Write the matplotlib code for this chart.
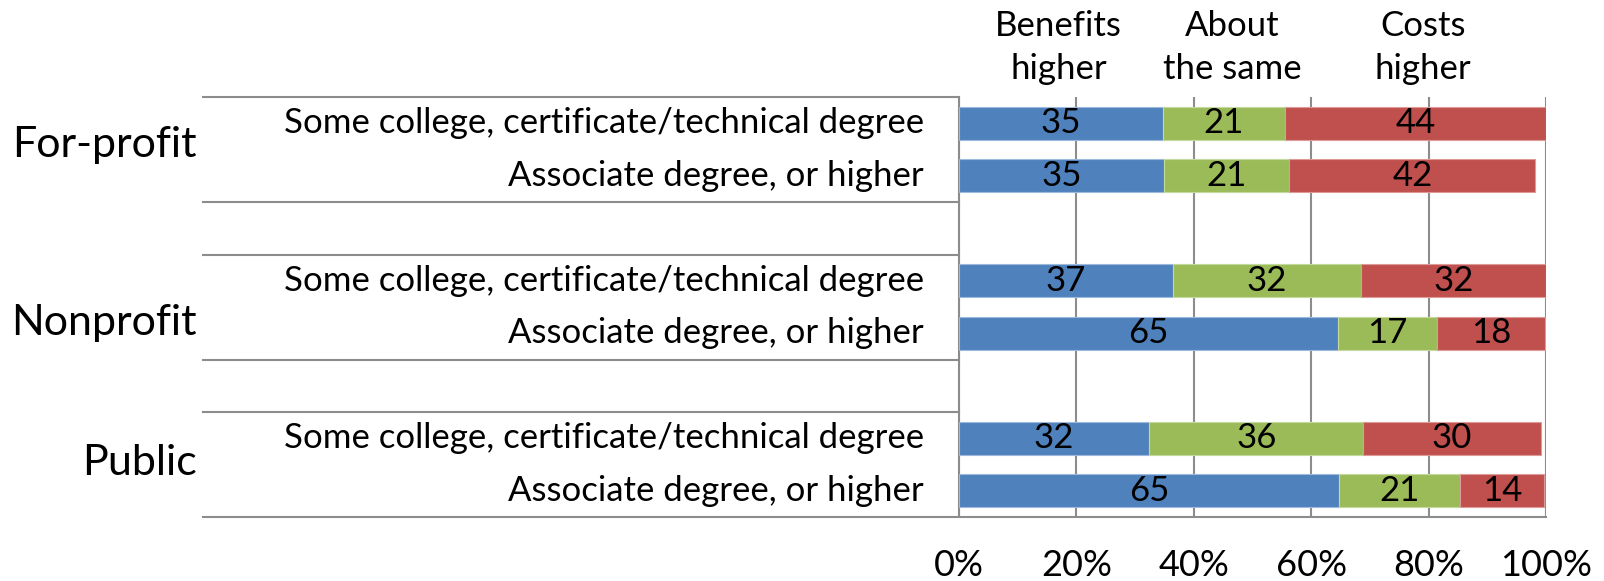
import matplotlib
matplotlib.use("Agg")
import matplotlib.pyplot as plt
import matplotlib.transforms as mtransforms
from matplotlib.lines import Line2D

plt.rcParams['font.family'] = ['Lato', 'DejaVu Sans']

# ---- data ----
groups = ["For-profit", "Nonprofit", "Public"]
rows = ["Some college, certificate/technical degree", "Associate degree, or higher"]
series_names = ["Benefits\nhigher", "About\nthe same", "Costs\nhigher"]
benefits = [34.7, 34.9, 36.5, 64.6, 32.4, 64.8]
same = [20.9, 21.4, 31.9, 16.8, 36.5, 20.6]
costs = [44.4, 41.9, 31.6, 18.5, 30.2, 14.2]
benefits_lbl = [35, 35, 37, 65, 32, 65]
same_lbl = [21, 21, 32, 17, 36, 21]
costs_lbl = [44, 42, 32, 18, 30, 14]
xticks = [0, 20, 40, 60, 80, 100]
xtick_labels = ["0%", "20%", "40%", "60%", "80%", "100%"]

colors = ["#4F81BD", "#9BBB59", "#C0504D"]
edges = ["#9DB9DD", "#C4D99D", "#DE9A98"]

W, H = 1604, 581
fig = plt.figure(figsize=(W / 100, H / 100), dpi=100)
ax_left, ax_right, ax_top, ax_bot = 959, 1546, 97, 517
ax = fig.add_axes([ax_left / W, 1 - ax_bot / H, (ax_right - ax_left) / W, (ax_bot - ax_top) / H])

# y positions: 2 rows per group with a blank slot between groups
ypos = []
for g in range(len(groups)):
    for r in range(len(rows)):
        ypos.append(g * 3 + r)

series = [benefits, same, costs]
labels = [benefits_lbl, same_lbl, costs_lbl]
left = [0.0] * len(ypos)
for s, (vals, lbls) in enumerate(zip(series, labels)):
    ax.barh(ypos, vals, left=left, height=0.62, color=colors[s],
            edgecolor=edges[s], linewidth=0.8, zorder=3)
    for y, l, v, t in zip(ypos, left, vals, lbls):
        ax.text(l + v / 2, y, str(t), ha="center", va="center",
                fontsize=25, color="black", zorder=4)
    left = [a + b for a, b in zip(left, vals)]

ax.set_xlim(0, 100)
ax.set_ylim(7.5, -0.5)
ax.set_xticks(xticks)
ax.set_xticklabels(xtick_labels, fontsize=26)
ax.tick_params(axis="x", length=0, pad=23)
ax.set_yticks([])
ax.grid(axis="x", color="#8C8C8C", linewidth=1.5, zorder=0)
ax.set_axisbelow(True)
for side in ["top", "right"]:
    ax.spines[side].set_visible(False)
ax.spines["left"].set_color("#8C8C8C")
ax.spines["left"].set_linewidth(1.5)
ax.spines["bottom"].set_visible(False)

# table-like multi-level category axis
trans = mtransforms.blended_transform_factory(ax.transAxes, ax.transData)
x_tab = (203 - ax_left) / (ax_right - ax_left)
for yb in [-0.5, 1.5, 2.5, 4.5, 5.5]:
    ax.add_line(Line2D([x_tab, 0], [yb, yb], transform=trans, color="#8C8C8C",
                       linewidth=1.5, clip_on=False))
ax.add_line(Line2D([x_tab, 1], [7.5, 7.5], transform=trans, color="#8C8C8C",
                   linewidth=1.5, clip_on=False))

x_rowlbl = (924 - ax_left) / (ax_right - ax_left)
for i, y in enumerate(ypos):
    ax.text(x_rowlbl, y, rows[i % 2], transform=trans, ha="right", va="center",
            fontsize=25)

x_grp = (197 - ax_left) / (ax_right - ax_left)
grp_y = [0.42, 3.8, 6.47]
for g, gy in zip(groups, grp_y):
    ax.text(x_grp, gy, g, transform=trans, ha="right", va="center", fontsize=31)

# header series labels
hdr_x = [17, 46.5, 79]
htrans = mtransforms.blended_transform_factory(ax.transData, ax.transAxes)
for name, hx in zip(series_names, hdr_x):
    ax.text(hx, 1.118, name, transform=htrans,
            ha="center", va="center", fontsize=25, linespacing=1.45)

fig.savefig("out.png", dpi=100)
